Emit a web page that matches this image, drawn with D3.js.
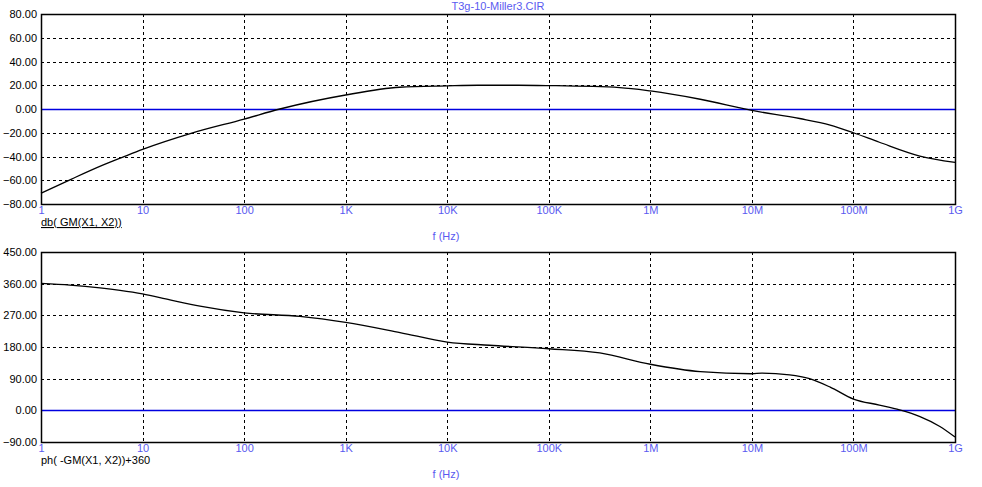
<!DOCTYPE html>
<html><head><meta charset="utf-8">
<script src="https://cdn.jsdelivr.net/npm/d3@7"></script>
<style>
body{margin:0;background:#fff;}
svg text{font-family:"Liberation Sans",Arial,sans-serif;font-size:11px;}
</style></head>
<body><svg id="c" width="982" height="487"></svg>
<script>
const title = "T3g-10-Miller3.CIR";
const xTickVals = [1,1e1,1e2,1e3,1e4,1e5,1e6,1e7,1e8,1e9];
const xTickLabels = ["1","10","100","1K","10K","100K","1M","10M","100M","1G"];
const magTicks = [80,60,40,20,0,-20,-40,-60,-80];
const phTicks = [450,360,270,180,90,0,-90];
const magFreq = [1,2,4,6.4,10,30,100,225,1e3,3.4e3,1e4,2e4,5e4,1e5,5e5,1e6,3.1e6,1e7,2.95e7,5.9e7,1e8,1.8e8,4.5e8,1e9];
const magDb   = [-71,-59,-47.5,-40.5,-34,-20.5,-8.5,0,11.8,18.3,19.5,20,20,19.7,18,15.2,8.2,-1.2,-8,-13.5,-20,-28,-39.6,-45];
const phFreq = [1,1.93,3.81,6,10,18.6,36.8,100,355,1e3,3.43e3,1e4,2.6e4,1e5,3.18e5,1e6,3.1e6,1e7,1.25e7,2.35e7,3.7e7,5.9e7,1e8,1.8e8,2.85e8,4.52e8,7.1e8,1e9];
const phDeg  = [361,356,348,341,331,314,296,277,267,250,221,194,185,175,163,131,110,104,106,101,90,66,32,15,1,-18,-46,-76];
const magLabel = "db( GM(X1, X2))";
const phLabel = "ph( -GM(X1, X2))+360";
const xLabel = "f (Hz)";

const svg = d3.select("#c");
const L = 41, R = 955;
const x = d3.scaleLog().domain([1,1e9]).range([L,R]);
const blueText = "#5a5af0";

svg.append("text").attr("x",(L+R)/2).attr("y",10).attr("text-anchor","middle").attr("fill",blueText).text(title);

function panel(top,bottom,ticks,freq,vals,label,underline,labelY,xTickY,xLabelY){
  const y = d3.scaleLinear().domain([ticks[ticks.length-1],ticks[0]]).range([bottom,top]);
  const g = svg.append("g");
  g.selectAll(".hg").data(ticks.slice(1,-1).filter(t=>t!==0)).enter().append("line")
    .attr("x1",L).attr("x2",R).attr("y1",d=>Math.round(y(d))+0.5).attr("y2",d=>Math.round(y(d))+0.5)
    .attr("stroke","#000").attr("stroke-dasharray","3,3");
  g.selectAll(".vg").data(xTickVals.slice(1,-1)).enter().append("line")
    .attr("y1",top).attr("y2",bottom).attr("x1",d=>Math.round(x(d))+0.5).attr("x2",d=>Math.round(x(d))+0.5)
    .attr("stroke","#000").attr("stroke-dasharray","3,3");
  g.append("line").attr("x1",L).attr("x2",R).attr("y1",Math.round(y(0))+0.5).attr("y2",Math.round(y(0))+0.5)
    .attr("stroke","#0000e0").attr("stroke-width",1.5);
  const line = d3.line().x((d,i)=>x(freq[i])).y(d=>y(d)).curve(d3.curveMonotoneX);
  g.append("path").datum(vals).attr("d",line).attr("fill","none").attr("stroke","#000").attr("stroke-width",1.3);
  g.append("rect").attr("x",L+0.5).attr("y",top+0.5).attr("width",R-L).attr("height",bottom-top)
    .attr("fill","none").attr("stroke","#000").attr("stroke-width",1.5);
  const yAxis = d3.axisLeft(y).tickValues(ticks).tickSize(0).tickPadding(4).tickFormat(d3.format(".2f"));
  const ya = g.append("g").attr("transform",`translate(${L},0)`).call(yAxis);
  ya.select(".domain").remove();
  ya.selectAll("text").attr("fill","#000").style("font-size","11px");
  const xAxis = d3.axisBottom(x).tickValues(xTickVals).tickSize(0).tickPadding(0).tickFormat((d,i)=>xTickLabels[i]);
  const xa = g.append("g").attr("transform",`translate(0,${xTickY})`).call(xAxis);
  xa.select(".domain").remove();
  xa.selectAll("text").attr("fill",blueText).attr("dy","0").style("font-size","11px");
  const t = g.append("text").attr("x",L).attr("y",labelY).attr("fill","#000").text(label);
  if(underline) t.attr("text-decoration","underline");
  g.append("text").attr("x",446).attr("y",xLabelY).attr("text-anchor","middle").attr("fill",blueText).text(xLabel);
}
panel(14,204,magTicks,magFreq,magDb,magLabel,true,226,214,240);
panel(252,442,phTicks,phFreq,phDeg,phLabel,false,464,452,478);
</script></body></html>
